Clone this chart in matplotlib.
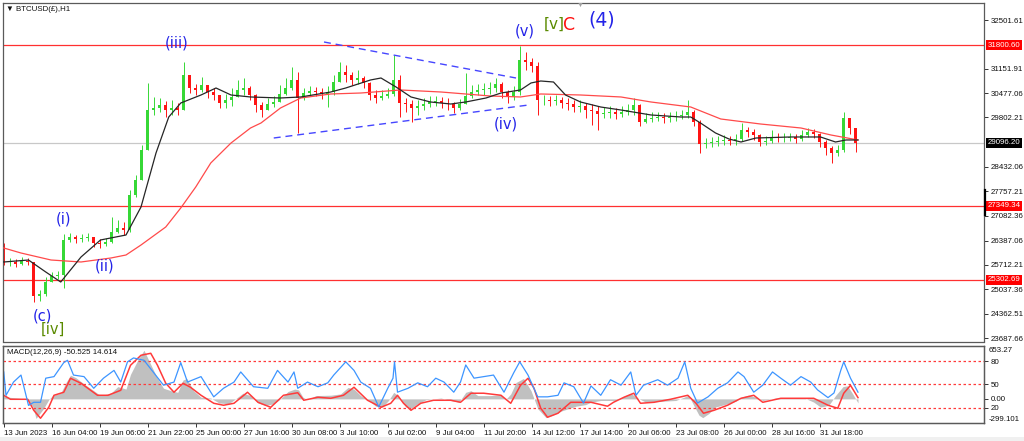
import numpy as np
import matplotlib
matplotlib.use("Agg")
import matplotlib.pyplot as plt
import matplotlib.transforms as mtrans
from matplotlib.patches import Rectangle
from matplotlib.lines import Line2D

plt.rcParams["font.family"] = ["Liberation Sans", "DejaVu Sans"]

# --- price data (8-hour candles), x = hourly bar index ---
first_open = 25850
closes = [25795, 25795, 25739, 25822, 25795, 24852, 24908, 25240, 25407, 25434,
          26405, 26488, 26432, 26460, 26488, 26321, 26294, 26349, 26626, 26737,
          26682, 27652, 28068, 28899, 30008, 30064, 30147, 30008, 30064, 30008,
          30978, 30618, 30563, 30701, 30507, 30424, 30202, 30285, 30369, 30563,
          30618, 30424, 30147, 30008, 30174, 30230, 30452, 30618, 30840, 30341,
          30479, 30535, 30507, 30452, 30507, 30784, 31062, 30978, 30840, 30895,
          30757, 30424, 30341, 30396, 30452, 30840, 30202, 30174, 30064, 30119,
          30174, 30230, 30258, 30202, 30174, 30064, 30174, 30396, 30507, 30563,
          30590, 30618, 30729, 30507, 30369, 30507, 31394, 31339, 31228, 30285,
          30285, 30258, 30285, 30202, 30174, 30091, 30119, 30008, 29980, 29897,
          29925, 29953, 29897, 29953, 30008, 30147, 29676, 29759, 29786, 29814,
          29786, 29814, 29842, 29870, 29953, 29676, 29066, 29093, 29121, 29149,
          29177, 29149, 29204, 29454, 29398, 29315, 29121, 29149, 29260, 29232,
          29232, 29260, 29204, 29315, 29398, 29343, 29121, 28955, 28816, 28899,
          29786, 29509, 29093]
highs = [26321, 25906, 25878, 25933, 25906, 25795, 25019, 25379, 25518, 25545,
         26571, 26599, 26543, 26571, 26599, 26460, 26432, 26460, 27042, 26959,
         26904, 27791, 28206, 29038, 30757, 30369, 30341, 30258, 30285, 30202,
         31339, 30990, 30729, 30923, 30701, 30618, 30424, 30452, 30618, 30840,
         30895, 30673, 30440, 30230, 30341, 30396, 30701, 30895, 31200, 31062,
         30618, 30673, 30646, 30618, 30673, 30978, 31339, 31256, 31062, 31117,
         30951, 30780, 30563, 30563, 30618, 31533, 30978, 30341, 30285, 30285,
         30341, 30396, 30396, 30369, 30341, 30230, 30313, 31034, 30701, 30729,
         30757, 30784, 30895, 30784, 30563, 30673, 31782, 31616, 31450, 31339,
         30424, 30396, 30424, 30369, 30341, 30285, 30285, 30202, 30174, 30119,
         30091, 30119, 30064, 30119, 30174, 30341, 30174, 29925, 29953, 29953,
         29925, 29953, 29980, 30008, 30285, 30008, 29731, 29232, 29260, 29287,
         29315, 29287, 29343, 29648, 29537, 29481, 29330, 29287, 29454, 29371,
         29371, 29371, 29343, 29454, 29509, 29481, 29360, 29177, 29010, 29038,
         29953, 29800, 29520]
lows = [25712, 25684, 25656, 25712, 25712, 24686, 24714, 24852, 25296, 25323,
        25074, 26349, 26321, 26349, 26377, 26211, 26183, 26238, 26321, 26599,
        26543, 26626, 27597, 28622, 28899, 29870, 29953, 29814, 29870, 29870,
        30008, 30479, 30424, 30507, 30341, 30285, 30064, 30064, 30119, 30396,
        30424, 30285, 29953, 29814, 30008, 30091, 30285, 30424, 30563, 29371,
        30285, 30396, 30396, 30313, 30091, 30424, 30840, 30784, 30701, 30729,
        30618, 30285, 30202, 30285, 30341, 30396, 29814, 29953, 29676, 29870,
        30008, 30091, 30119, 30064, 30008, 29925, 30008, 30230, 30341, 30424,
        30424, 30452, 30507, 30341, 30202, 30285, 30424, 31117, 31062, 29870,
        30147, 30119, 30147, 30064, 30008, 29953, 29953, 29786, 29592, 29454,
        29786, 29786, 29759, 29814, 29870, 29870, 29565, 29648, 29676, 29703,
        29648, 29676, 29703, 29759, 29786, 29565, 28816, 28955, 28983, 29010,
        29038, 29038, 29038, 29149, 29260, 29177, 29010, 29038, 29093, 29121,
        29121, 29149, 29093, 29149, 29260, 29232, 28983, 28761, 28539, 28733,
        28844, 29343, 28844]
candle_step = 8

# moving averages
ma_fast_x = [0, 33, 56, 76, 103, 129, 163, 183, 203, 220, 236, 263, 283, 303, 329,
             369, 396, 436, 456, 489, 503, 523, 543, 569, 596, 616, 643, 663, 689,
             703, 716, 733, 749, 769, 796, 823, 863, 903, 916, 929, 949, 967, 983,
             1003, 1049, 1089, 1109, 1123, 1139]
ma_fast = [25795, 25850, 25518, 25240, 25933, 26405, 26543, 27319, 28816, 29814,
           30202, 30424, 30618, 30424, 30369, 30341, 30369, 30507, 30618, 30840,
           30895, 30646, 30369, 30230, 30174, 30230, 30341, 30479, 30563, 30757,
           30812, 30784, 30424, 30230, 30091, 30008, 29870, 29814, 29814, 29648,
           29371, 29204, 29121, 29232, 29260, 29260, 29121, 29177, 29177]
ma_slow_x = [0, 23, 63, 103, 143, 163, 183, 216, 236, 256, 276, 303, 329, 343, 369,
             396, 436, 476, 529, 583, 649, 689, 716, 769, 823, 863, 916, 956, 1009,
             1063, 1103, 1139]
ma_slow = [26183, 26044, 25850, 25795, 25906, 25989, 26266, 26765, 27292, 27874,
           28539, 29093, 29509, 29648, 30064, 30341, 30452, 30479, 30563, 30507,
           30396, 30369, 30452, 30424, 30369, 30230, 30091, 29759, 29620, 29509,
           29315, 29177]

# horizontal levels and trendlines
red_levels = [31800.60, 27349.34, 25302.69]
gray_level = 29096.20
trend_up_x, trend_up_y = [427, 683], [31893, 30895]
trend_lo_x, trend_lo_y = [360, 700], [29232, 30147]

price_ticks = [32501.61, 31151.91, 30477.06, 29802.21, 28432.06, 27757.21,
               27082.36, 26387.06, 25712.21, 25037.36, 24362.51, 23687.66]

# wave labels: (text, bar, price, colour, size)
wave_labels = [("(iii)", 231, 31865, "#2323e8", 10.5),
               ("(i)", 80, 26987, "#2323e8", 10.5),
               ("(ii)", 135, 25684, "#2323e8", 10.5),
               ("(c)", 51, 24284, "#2323e8", 10.5),
               ("[iv]", 65, 23924, "#5a8a00", 10.5),
               ("(iv)", 669, 29620, "#2323e8", 10.5),
               ("(v)", 695, 32198, "#2323e8", 10.5),
               ("[v]", 734, 32378, "#5a8a00", 11),
               ("C", 754, 32378, "#ff1010", 12.5),
               ("(4)", 797, 32503, "#2323e8", 13.5)]

# --- MACD window ---
macd_x = [0, 7, 23, 32, 39, 43, 53, 60, 65, 76, 83, 89, 96, 109, 120, 129, 143, 152,
          163, 169, 179, 187, 196, 205, 213, 223, 232, 239, 244, 253, 263, 276, 287,
          300, 309, 319, 329, 339, 349, 360, 369, 379, 388, 393, 399, 405, 416, 436,
          449, 459, 467, 476, 487, 496, 505, 513, 520, 527, 536, 543, 552, 563, 583,
          596, 607, 616, 623, 632, 649, 663, 669, 676, 683, 693, 703, 712, 723, 732,
          743, 763, 776, 783, 796, 816, 827, 836, 843, 856, 876, 896, 907, 913, 920,
          927, 932, 940, 949, 965, 976, 983, 993, 1003, 1012, 1029, 1049, 1069, 1080,
          1089, 1100, 1109, 1119, 1125, 1132, 1139]
macd_main = [40, 20, 5, -10, -100, -240, -120, -10, 40, 70,
             200, 290, 260, 170, 100, 40, 70, 150, 120, 300,
             480, 595, 420, 250, 130, 100, 80, 230, 250, 100,
             20, 10, -50, -60, 0, 70, 40, -50, -80, -60,
             0, 90, 120, 110, 20, -10, 40, 45, 60, 140,
             120, 40, -20, -90, -100, -20, 80, 30, -100, -115,
             -60, -10, 10, -20, -40, 80, 100, 40, 40, 50,
             -10, 60, 200, 250, 100, -120, -230, -200, -150, -90,
             -70, -40, -20, -20, 30, 70, 20, -40, -30, -20,
             20, 45, -80, -200, -230, -180, -100, -60, -30, 20,
             45, 20, -20, 10, 10, 5, -40, -100, -80, 40,
             150, 160, 60, -50]
sig_x = [0, 9, 32, 40, 49, 60, 67, 80, 89, 103, 125, 139, 156, 169, 183, 196, 205,
         216, 227, 239, 249, 263, 280, 293, 307, 325, 339, 356, 373, 392, 400, 419,
         436, 453, 467, 485, 503, 516, 525, 533, 543, 556, 573, 596, 609, 623, 640,
         663, 676, 689, 699, 707, 716, 725, 739, 756, 783, 805, 813, 827, 840, 849,
         867, 889, 912, 923, 933, 947, 965, 983, 1000, 1012, 1036, 1059, 1080, 1099,
         1112, 1120, 1129, 1139]
macd_signal = [44, -5, -5, -140, -237, -103, 44, 81, 252, 191,
               44, 44, 105, 411, 534, 558, 411, 191, 81, 191,
               142, 44, -54, -78, -54, 81, -42, -103, 44, 75,
               -17, 20, 7, 44, 142, -17, -103, -54, 44, -54,
               -140, -54, -17, -17, -42, 69, 69, 44, -54, 166,
               252, 130, -115, -225, -176, -42, -42, -90, -42, 20,
               69, -54, -42, -5, 44, -54, -176, -140, -78, 7,
               44, -42, 7, 7, 7, -78, -115, 69, 166, 15]
osc_x = [0, 3, 13, 23, 33, 40, 49, 56, 67, 80, 85, 93, 107, 120, 133, 147, 156, 165,
         173, 187, 200, 213, 227, 236, 245, 263, 280, 293, 307, 316, 333, 352, 365,
         379, 387, 392, 405, 419, 432, 440, 456, 467, 476, 489, 500, 512, 519, 521,
         525, 539, 552, 565, 576, 587, 600, 609, 616, 627, 640, 653, 667, 680, 688,
         699, 712, 725, 739, 747, 760, 773, 783, 796, 809, 823, 836, 843, 853, 872,
         885, 899, 908, 916, 925, 939, 952, 965, 979, 987, 1000, 1012, 1025, 1036,
         1049, 1063, 1076, 1085, 1099, 1107, 1116, 1120, 1129, 1139]
osc = [66, 36, 53, 62, 23, 27, 27, 58, 60, 78,
       81, 62, 60, 45, 58, 68, 53, 79, 84, 81,
       65, 49, 53, 78, 53, 60, 34, 45, 53, 66,
       47, 45, 68, 53, 66, 45, 53, 47, 52, 62,
       79, 68, 53, 45, 21, 45, 58, 79, 40, 45,
       52, 47, 58, 53, 40, 53, 75, 58, 60, 62,
       40, 65, 79, 62, 34, 34, 36, 52, 47, 26,
       48, 36, 56, 49, 66, 36, 49, 56, 49, 58,
       79, 45, 26, 34, 45, 52, 66, 60, 40, 49,
       66, 58, 49, 60, 53, 43, 33, 39, 68, 79,
       58, 40]
osc_levels = [80, 50, 20]
macd_min, macd_max = -299.101, 653.27

tick_bars = [0, 64, 128, 192, 256, 320, 384, 448, 512, 576, 640, 704, 768, 832,
             896, 960, 1024, 1088]
tick_labels = ["13 Jun 2023", "16 Jun 04:00", "19 Jun 06:00", "21 Jun 22:00",
               "25 Jun 00:00", "27 Jun 16:00", "30 Jun 08:00", "3 Jul 10:00",
               "6 Jul 02:00", "9 Jul 04:00", "11 Jul 20:00", "14 Jul 12:00",
               "17 Jul 14:00", "20 Jul 06:00", "23 Jul 08:00", "26 Jul 00:00",
               "28 Jul 16:00", "31 Jul 18:00"]

# --- figure layout (pixel based) ---
W, H = 1024, 441
fig = plt.figure(figsize=(W / 100, H / 100), dpi=100, facecolor="white")


def px_axes(x0, y0, x1, y1):
    return fig.add_axes([x0 / W, 1 - y1 / H, (x1 - x0) / W, (y1 - y0) / H])


fs = 5.7
frame = "#5a5a5a"
xlim = (-1, 1307)
wave_font = ["DejaVu Sans"]

ax = px_axes(3, 3, 984, 341.5)
ax.set_xlim(*xlim)
ax.set_ylim(23591, 32974)

for lv in red_levels:
    ax.axhline(lv, color="#ff3030", lw=0.9, zorder=1)
ax.axhline(gray_level, color="#c8c8c8", lw=0.9, zorder=1)

# candles
c = np.array(closes, dtype=float)
o = np.concatenate([[first_open], c[:-1]])
hi = np.maximum(np.array(highs, dtype=float), np.maximum(o, c))
lo = np.minimum(np.array(lows, dtype=float), np.minimum(o, c))
bx = np.arange(len(c)) * candle_step
cols = np.where(c >= o, "#36d836", "#ff1414")
ax.vlines(bx, lo, hi, colors=cols, lw=0.7, zorder=2)
ax.bar(bx, c - o, bottom=o, width=3.6, color=cols, linewidth=0, zorder=2)

ax.plot(ma_slow_x, ma_slow, color="#ff4a4a", lw=0.9, zorder=3)
ax.plot(ma_fast_x, ma_fast, color="#262626", lw=0.9, zorder=3)

ax.plot(trend_up_x, trend_up_y, color="#4646ff", lw=1.0, dashes=(5, 3.5), zorder=3)
ax.plot(trend_lo_x, trend_lo_y, color="#4646ff", lw=1.0, dashes=(5, 3.5), zorder=3)

for txt, bxx, py, col, sz in wave_labels:
    ax.text(bxx, py, txt, color=col, fontsize=sz, ha="center", va="center",
            family=wave_font, zorder=4)

ax.text(0.003, 0.982, "\u25bc BTCUSD(\u00a3),H1", transform=ax.transAxes,
        fontsize=fs, ha="left", va="center", color="#111")

ax.set_xticks([])
ax.yaxis.tick_right()
ax.set_yticks(price_ticks)
ax.set_yticklabels([f"{v:.2f}" for v in price_ticks])
ax.tick_params(axis="y", direction="out", length=3, width=0.7, pad=2,
               labelsize=fs, color="#333", labelcolor="#111")
for s in ax.spines.values():
    s.set_color(frame)
    s.set_linewidth(0.9)

trans = mtrans.blended_transform_factory(ax.transAxes, ax.transData)
for lv in red_levels:
    ax.text(1.0035, lv, f"{lv:.2f}", transform=trans, fontsize=fs, color="white",
            ha="left", va="center", clip_on=False,
            bbox=dict(boxstyle="square,pad=0.2", fc="#ff0000", ec="none"))
ax.text(1.0035, gray_level, f"{gray_level:.2f}", transform=trans, fontsize=fs,
        color="white", ha="left", va="center", clip_on=False,
        bbox=dict(boxstyle="square,pad=0.2", fc="#000000", ec="none"))

# --- MACD panel ---
ax2 = px_axes(3, 345.5, 984, 423.3)
ax2.set_xlim(*xlim)
ax2.set_ylim(macd_min, macd_max)
ax2.fill_between(macd_x, 0, macd_main, color="#c0c0c0", lw=0, zorder=1)
ax2.plot(sig_x, macd_signal, color="#ff3a3a", lw=1.1, zorder=3)

ax3 = ax2.twinx()
ax3.set_xlim(*xlim)
ax3.set_ylim(0, 100)
for lv in osc_levels:
    ax3.axhline(lv, color="#ff3a3a", lw=0.9, dashes=(2, 2), zorder=1)
ax3.plot(osc_x, osc, color="#3d95ff", lw=0.9, zorder=2)
ax3.set_yticks(osc_levels)
ax3.set_yticklabels([str(v) for v in osc_levels])
ax3.tick_params(axis="y", direction="out", length=3, width=0.7, pad=2,
                labelsize=fs, color="#333", labelcolor="#111")

ax2.yaxis.tick_right()
ax2.set_yticks([0])
ax2.set_yticklabels(["0.00"])
ax2.tick_params(axis="y", direction="out", length=3, width=0.7, pad=2,
                labelsize=fs, color="#333", labelcolor="#111")
t2 = ax2.transAxes
ax2.text(1.0045, 0.94, f"{macd_max:.2f}", transform=t2, fontsize=fs,
         ha="left", va="center", color="#111", clip_on=False)
ax2.text(1.0045, 0.055, f"{macd_min:.3f}", transform=t2, fontsize=fs,
         ha="left", va="center", color="#111", clip_on=False)
ax2.text(0.004, 0.915, "MACD(12,26,9) -50.525 14.614", transform=ax2.transAxes,
         fontsize=fs, ha="left", va="center", color="#111", zorder=5)

ax2.set_xticks(tick_bars)
ax2.set_xticklabels(tick_labels)
ax2.tick_params(axis="x", direction="out", length=3, width=0.7, pad=1.5,
                labelsize=fs, color="#333", labelcolor="#111")
for lab in ax2.get_xticklabels():
    lab.set_ha("left")
for a in (ax2, ax3):
    for s in a.spines.values():
        s.set_color(frame)
        s.set_linewidth(0.9)

# chart shift marker, scroll bar and bottom strip
fig.text(580 / W, 1 - 5 / H, "\u25bc", color="#a0a0a0", fontsize=5,
         ha="center", va="center")
fig.add_artist(Line2D([984.5 / W, 984.5 / W], [1 - 190 / H, 1 - 215 / H],
                      color="black", lw=1.6))
fig.patches.append(Rectangle((0, 0), 1, 4 / H, transform=fig.transFigure,
                             fc="#f0f0f0", ec="none"))

fig.savefig("out.png", dpi=100, facecolor="white")
